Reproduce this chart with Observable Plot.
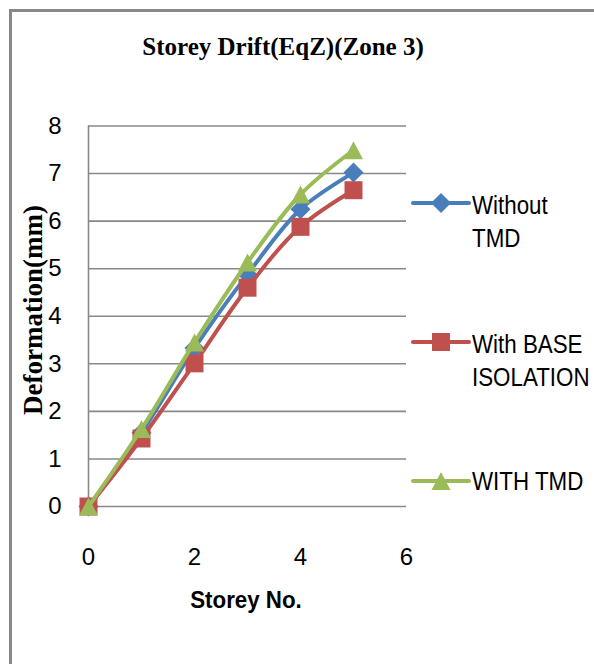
<!DOCTYPE html>
<html>
<head>
<meta charset="utf-8">
<script src="https://cdn.jsdelivr.net/npm/d3@7"></script>
<script src="https://cdn.jsdelivr.net/npm/@observablehq/plot@0.6"></script>
<style>
  html, body { margin: 0; padding: 0; background: #fff; }
  #wrap { position: relative; width: 594px; height: 664px; overflow: hidden; background: #fff; }
  #frame { position: absolute; left: 9px; top: 9px; width: 700px; height: 800px;
           border-left: 3px solid #888; border-top: 3px solid #888; box-sizing: border-box; }
  #chart { position: absolute; left: 0; top: 0; }
</style>
</head>
<body>
<div id="wrap"><div id="frame"></div><div id="chart"></div></div>
<script>
// ---- data ----
const storeys = [0, 1, 2, 3, 4, 5];
const withoutTMD = [0, 1.55, 3.33, 4.88, 6.25, 7.02];
const withBaseIsolation = [0, 1.43, 3.01, 4.6, 5.88, 6.65];
const withTMD = [0, 1.63, 3.45, 5.13, 6.56, 7.49];
const seriesNames = ["Without TMD", "With BASE ISOLATION", "WITH TMD"];
const legendLines = [["Without", "TMD"], ["With BASE", "ISOLATION"], ["WITH TMD"]];
const seriesColors = ["#4A7EBB", "#C0504D", "#9BBB59"];
const xTicks = [0, 2, 4, 6];
const yTicks = [0, 1, 2, 3, 4, 5, 6, 7, 8];
const chartTitle = "Storey Drift(EqZ)(Zone 3)";
const xLabel = "Storey No.";
const yLabel = "Deformation(mm)";

const sansFont = "'Liberation Sans', Arial, sans-serif";
const serifFont = "'Liberation Serif', 'Times New Roman', serif";

// ---- marker shapes (Excel-like) ----
const diamond = { draw(ctx, size) { const h = 10; ctx.moveTo(0, -h); ctx.lineTo(h, 0); ctx.lineTo(0, h); ctx.lineTo(-h, 0); ctx.closePath(); } };
const square = { draw(ctx, size) { const h = 9; ctx.moveTo(-h, -h); ctx.lineTo(h, -h); ctx.lineTo(h, h); ctx.lineTo(-h, h); ctx.closePath(); } };
const triangle = { draw(ctx, size) { const w = 9.5, h = 9; ctx.moveTo(0, -h); ctx.lineTo(w, h); ctx.lineTo(-w, h); ctx.closePath(); } };
const shapes = [diamond, square, triangle];

const allValues = [withoutTMD, withBaseIsolation, withTMD];
const tables = allValues.map((vals, i) => storeys.map((s, j) => ({ storey: s, value: vals[j], series: seriesNames[i] })));

const marks = [
  Plot.gridY(yTicks, { stroke: "#888", strokeOpacity: 1, strokeWidth: 1.6 }),
  Plot.ruleX([0], { y1: 0, y2: 8, stroke: "#888", strokeWidth: 1.6 }),
  Plot.axisY(yTicks, { tickSize: 0, tickPadding: 27, label: null, fontSize: 24 }),
  Plot.axisX(xTicks, { tickSize: 0, tickPadding: 41, label: null, fontSize: 24 })
];
tables.forEach((t, i) => {
  marks.push(Plot.line(t, { x: "storey", y: "value", stroke: seriesColors[i], strokeWidth: 4, curve: "catmull-rom", strokeLinejoin: "round" }));
  marks.push(Plot.dot(t, { x: "storey", y: "value", fill: seriesColors[i], stroke: "none", symbol: shapes[i], r: 10 }));
});

const svg = Plot.plot({
  width: 594,
  height: 664,
  marginLeft: 88,
  marginRight: 188,
  marginTop: 125.5,
  marginBottom: 158,
  x: { domain: [0, 6] },
  y: { domain: [0, 8] },
  style: { fontFamily: sansFont, fontSize: "24px", color: "#000", background: "transparent", overflow: "visible" },
  marks
});
document.getElementById("chart").appendChild(svg);

// ---- titles and legend drawn into the same SVG ----
const s = d3.select(svg);
s.append("text").attr("x", 283).attr("y", 55).attr("text-anchor", "middle")
  .attr("font-family", serifFont).attr("font-weight", "bold").attr("font-size", 25)
  .attr("fill", "#000").text(chartTitle);
s.append("text").attr("transform", "translate(246,608) scale(0.93,1)").attr("text-anchor", "middle")
  .attr("font-family", sansFont).attr("font-weight", "bold").attr("font-size", 24)
  .attr("fill", "#000").text(xLabel);
s.append("text").attr("transform", "translate(42,310) rotate(-90)").attr("text-anchor", "middle")
  .attr("font-family", serifFont).attr("font-weight", "bold").attr("font-size", 27)
  .attr("fill", "#000").text(yLabel);

const legendY = [203, 342, 481];
const lg = s.append("g");
seriesNames.forEach((name, i) => {
  const y = legendY[i];
  lg.append("line").attr("x1", 413).attr("x2", 469).attr("y1", y).attr("y2", y)
    .attr("stroke", seriesColors[i]).attr("stroke-width", 4).attr("stroke-linecap", "round");
  lg.append("path").attr("transform", `translate(441,${y})`).attr("fill", seriesColors[i])
    .attr("d", d3.symbol(shapes[i], 100)());
  const lines = legendLines[i];
  const y0 = lines.length === 1 ? y + 9 : y + 11;
  const t = lg.append("text").attr("transform", `translate(472,${y0}) scale(0.86,1)`)
    .attr("text-anchor", "start")
    .attr("font-family", sansFont).attr("font-size", 26).attr("fill", "#000");
  lines.forEach((ln, k) => {
    t.append("tspan").attr("x", 0).attr("y", k * 33).text(ln);
  });
});
</script>
</body>
</html>
